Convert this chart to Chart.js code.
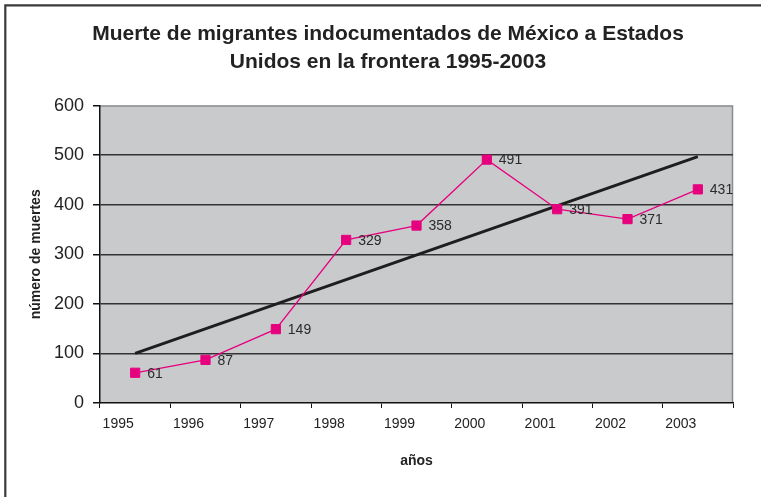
<!DOCTYPE html>
<html>
<head>
<meta charset="utf-8">
<script src="https://cdn.jsdelivr.net/npm/chart.js@4/dist/chart.umd.min.js"></script>
<style>
html,body{margin:0;padding:0;background:#fff;}
#wrap{position:relative;width:761px;height:497px;}
</style>
</head>
<body>
<div id="wrap"><canvas id="c" width="761" height="497"></canvas></div>
<script>
const categories = ['1995','1996','1997','1998','1999','2000','2001','2002','2003'];
const muertes = [61, 87, 149, 329, 358, 491, 391, 371, 431];
const tendencia = [100, null, null, null, null, null, null, null, 497];
const yTicks = [0, 100, 200, 300, 400, 500, 600];

const FONT = "'Liberation Sans', Arial, Helvetica, sans-serif";

const bgPlugin = {
  id: 'bg',
  beforeDraw(chart) {
    const ctx = chart.ctx, a = chart.chartArea;
    ctx.save();
    ctx.fillStyle = '#fff';
    ctx.fillRect(0, 0, chart.width, chart.height);
    ctx.fillStyle = '#c9cacc';
    ctx.fillRect(a.left, a.top, a.right - a.left, a.bottom - a.top);
    ctx.strokeStyle = '#8c8c8c';
    ctx.lineWidth = 1.5;
    ctx.beginPath();
    ctx.moveTo(a.left, a.top + 0.5);
    ctx.lineTo(a.right - 0.5, a.top + 0.5);
    ctx.lineTo(a.right - 0.5, a.bottom);
    ctx.stroke();
    // outer frame (top and left)
    ctx.strokeStyle = '#3a3a3a';
    ctx.lineWidth = 2.2;
    ctx.beginPath();
    ctx.moveTo(5.3, chart.height);
    ctx.lineTo(5.3, 5.3);
    ctx.lineTo(chart.width, 5.3);
    ctx.stroke();
    ctx.restore();
  }
};

const labelPlugin = {
  id: 'vals',
  afterDatasetsDraw(chart) {
    const ctx = chart.ctx;
    const meta = chart.getDatasetMeta(0);
    ctx.save();
    ctx.font = '14px ' + FONT;
    ctx.fillStyle = '#2b2b2b';
    ctx.textAlign = 'left';
    ctx.textBaseline = 'middle';
    meta.data.forEach((pt, i) => {
      ctx.fillText(String(muertes[i]), pt.x + 12, pt.y + 1);
    });
    ctx.restore();
  }
};

new Chart(document.getElementById('c'), {
  type: 'line',
  data: {
    labels: categories,
    datasets: [
      {
        label: 'muertes',
        data: muertes,
        borderColor: '#e6007e',
        backgroundColor: '#e6007e',
        borderWidth: 1.3,
        pointStyle: 'rect',
        pointRadius: 6.5,
        pointBorderWidth: 1,
        pointBackgroundColor: '#e6007e',
        pointBorderColor: '#e6007e',
        tension: 0,
        order: 1
      },
      {
        label: 'tendencia',
        data: tendencia,
        borderColor: '#1e1e1e',
        borderWidth: 3,
        pointRadius: 0,
        spanGaps: true,
        tension: 0,
        order: 2
      }
    ]
  },
  options: {
    responsive: false,
    animation: false,
    devicePixelRatio: 1,
    layout: { padding: { left: 43, right: 28, top: 4, bottom: 20 } },
    plugins: {
      legend: { display: false },
      tooltip: { enabled: false },
      title: {
        display: true,
        text: ['Muerte de migrantes indocumentados de México a Estados', 'Unidos en la frontera 1995-2003'],
        color: '#222',
        font: { family: FONT, size: 21, weight: 'bold', lineHeight: 1.3 },
        padding: { top: 17, bottom: 30 }
      }
    },
    scales: {
      x: {
        type: 'category',
        offset: true,
        grid: {
          offset: true,
          drawOnChartArea: false,
          drawTicks: true,
          tickLength: 5,
          color: '#111',
          lineWidth: 1
        },
        border: { display: true, color: '#111', width: 1.5 },
        ticks: {
          color: '#222',
          font: { family: FONT, size: 14 },
          padding: 8,
          labelOffset: -17,
          maxRotation: 0,
          autoSkip: false
        },
        title: {
          display: true,
          text: 'años',
          color: '#222',
          font: { family: FONT, size: 14, weight: 'bold' },
          padding: { top: 10, bottom: 7 }
        },
        afterFit(scale) { scale.height = 74; }
      },
      y: {
        min: 0,
        max: 600,
        afterBuildTicks(scale) { scale.ticks = yTicks.map(v => ({ value: v })); },
        grid: {
          drawTicks: true,
          tickLength: 7,
          color: (c) => (c.tick && (c.tick.value === 0 || c.tick.value === 600)) ? 'rgba(0,0,0,0)' : '#333',
          tickColor: '#111',
          lineWidth: 1.5
        },
        border: { display: true, color: '#111', width: 1.5 },
        ticks: {
          color: '#222',
          font: { family: FONT, size: 18 },
          padding: 9
        },
        title: {
          display: true,
          text: 'número de muertes',
          color: '#222',
          font: { family: FONT, size: 14, weight: 'bold' },
          padding: { top: -15, bottom: 0 }
        },
        afterFit(scale) { scale.width = 57; }
      }
    }
  },
  plugins: [bgPlugin, labelPlugin]
});
</script>
</body>
</html>
